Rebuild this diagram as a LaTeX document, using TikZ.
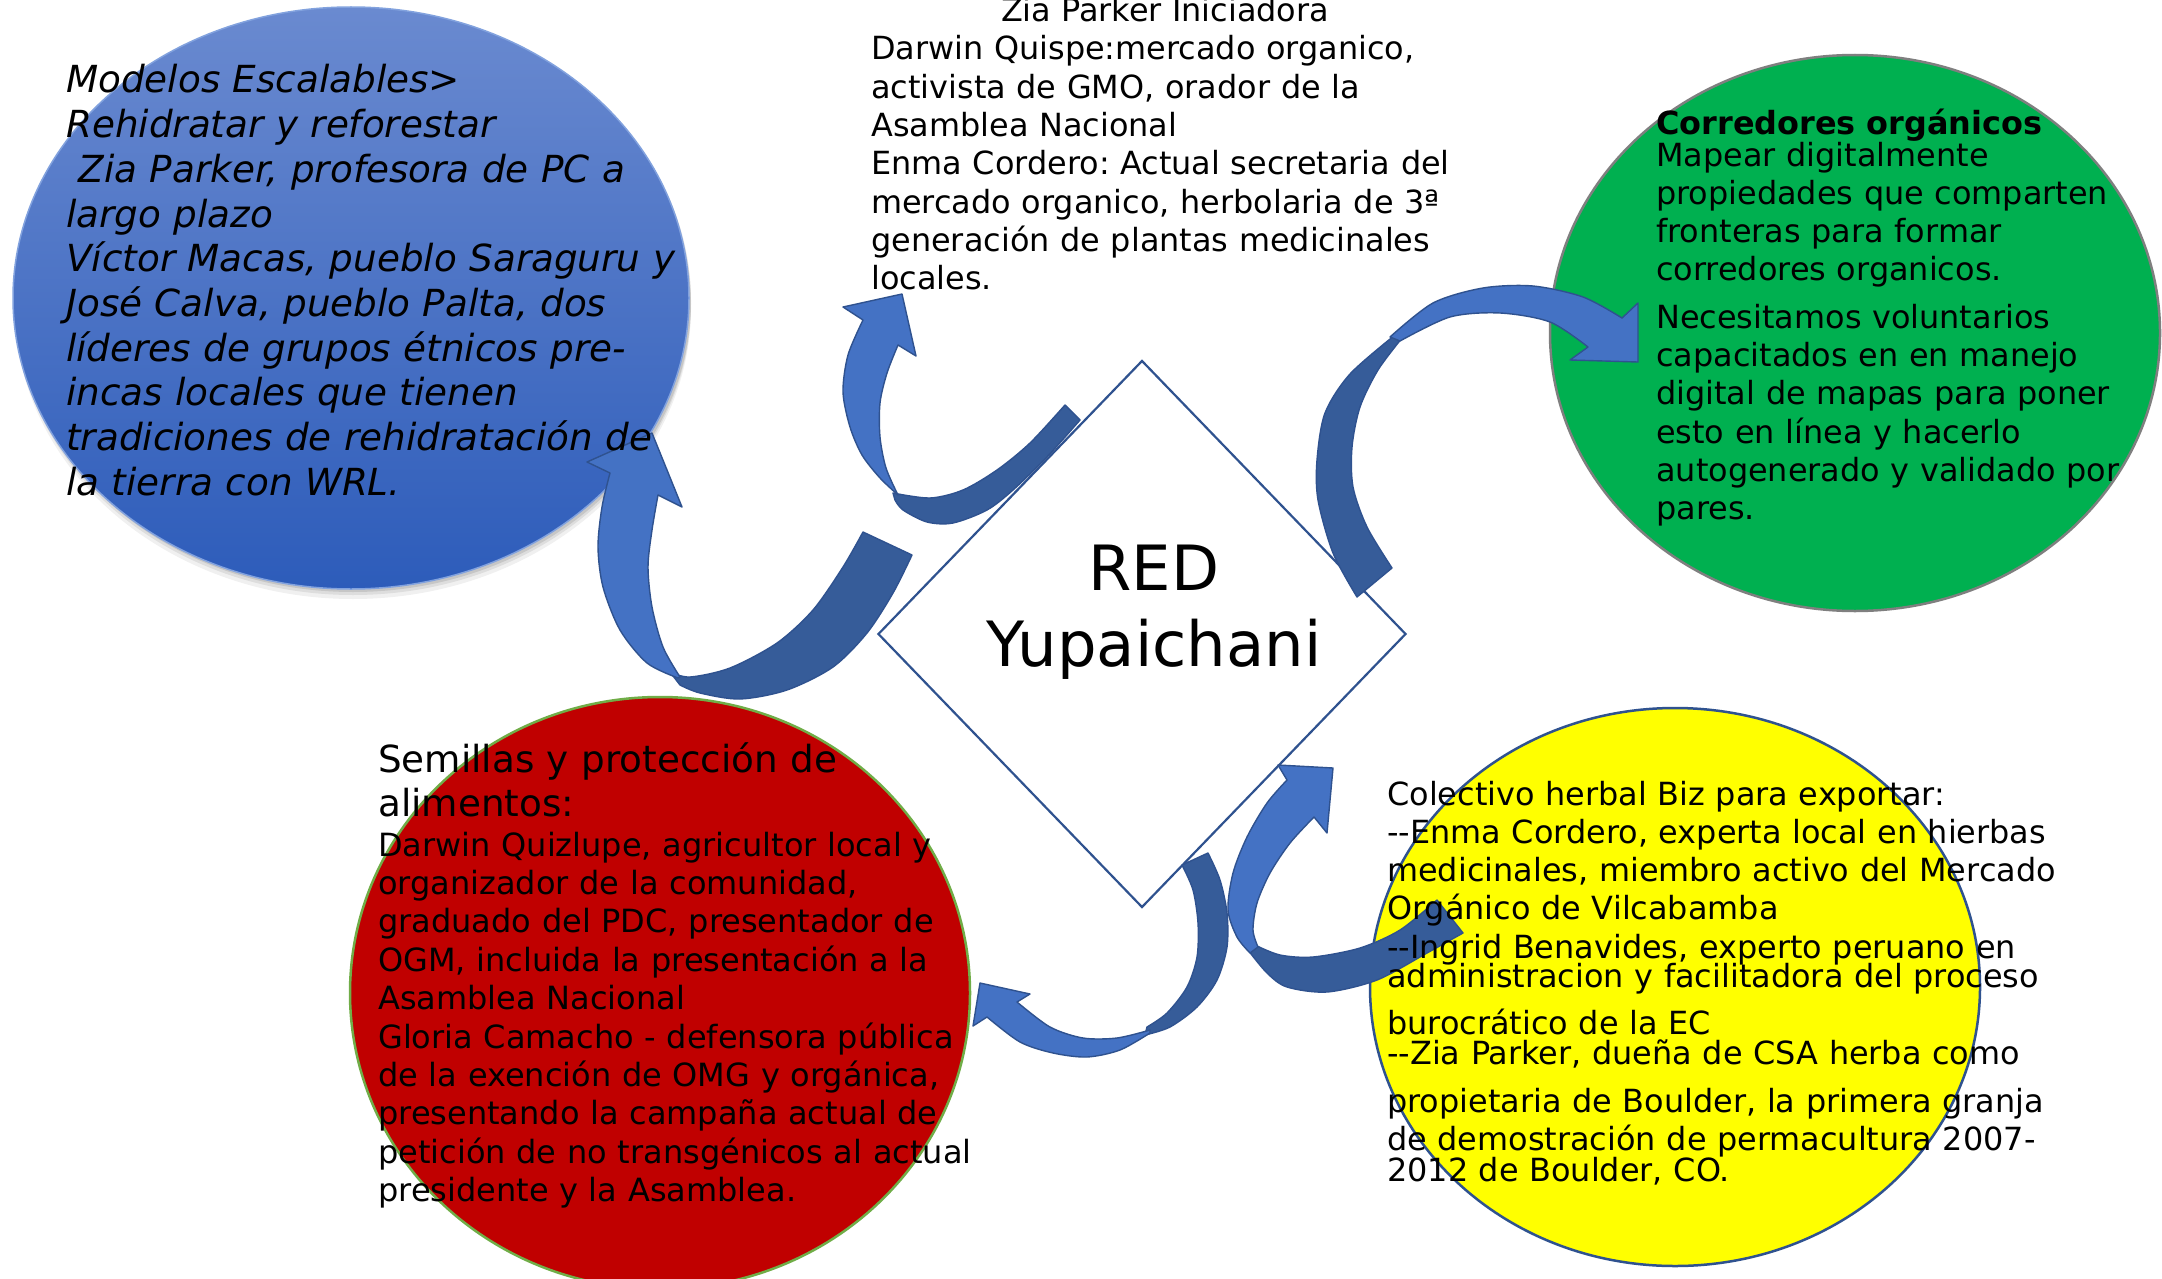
\documentclass[tikz,border=0pt]{standalone}
\usepackage{fontspec}
\setmainfont{DejaVu Sans}[ItalicFont={DejaVu Sans Oblique},BoldFont={DejaVu Sans Bold}]
\usetikzlibrary{shapes.geometric}
\definecolor{arrowlight}{HTML}{4472C4}
\definecolor{arrowdark}{HTML}{365C99}
\definecolor{arrowline}{HTML}{2F528F}
\definecolor{blueTop}{RGB}{106,138,208}
\definecolor{blueMid}{RGB}{72,114,200}
\definecolor{blueBot}{RGB}{45,92,186}
\definecolor{blueEdge}{RGB}{130,162,222}
\definecolor{redfill}{HTML}{C00000}
\definecolor{redline}{HTML}{70AD47}
\definecolor{greenfill}{HTML}{00B050}
\definecolor{grayline}{HTML}{7F7F7F}
\definecolor{yellowfill}{HTML}{FFFF00}
\frenchspacing
\begin{document}
\begin{tikzpicture}[x=1pt,y=-1pt,
  bubble/.style={ellipse, inner sep=0pt},
  lightpart/.style={fill=arrowlight, draw=arrowline, line width=1.4pt, line join=round},
  darkpart/.style={fill=arrowdark, draw=arrowline, line width=1.4pt, line join=round},
  block/.style={anchor=base west, inner sep=0pt, align=left, text width=#1},
  bodyfont/.style={font=\fontsize{31.9}{38.3}\selectfont},
]
\useasboundingbox (0,0) rectangle (2162,1279);
\fill[white] (0,0) rectangle (2162,1279);

% shadow of blue bubble
\foreach \d/\o in {3/0.10,6/0.08,10/0.06}{
  \node[bubble, fill=black, opacity=\o, minimum width=676pt, minimum height=582pt] (shadow\d) at (353,298+\d) {};
}
% bubbles
\node[bubble, top color=blueTop, middle color=blueMid, bottom color=blueBot, draw=blueEdge, line width=1.5pt,
      minimum width=676pt, minimum height=582pt] (blue) at (351,298) {};
\node[bubble, fill=greenfill, draw=grayline, line width=2.5pt,
      minimum width=610pt, minimum height=556pt] (green) at (1855,333) {};
\node[bubble, fill=redfill, draw=redline, line width=2.5pt,
      minimum width=620pt, minimum height=592pt] (red) at (660,993) {};
\node[bubble, fill=yellowfill, draw=arrowline, line width=2.5pt,
      minimum width=610pt, minimum height=558pt] (yellow) at (1675,987) {};
% hub
\node[diamond, draw=arrowline, line width=2.2pt, fill=white, inner sep=0pt,
      minimum width=528pt, minimum height=547pt] (hub) at (1142,634) {};

% arrow 1 : hub -> top text
\filldraw[darkpart] plot[smooth] coordinates {(1065,405) (1030,443) (997,470) (963,490) (930,498) (893,493)}
  -- plot[smooth] coordinates {(895,500) (903,510) (927,522) (953,523) (987,510) (1013,490) (1047,457) (1080,420)} -- cycle;
\filldraw[lightpart] plot[smooth] coordinates {(898,495) (880,478) (862,455) (850,427) (843,392) (848,355) (863,320)}
  -- (843,307) -- (902,294) -- (916,356) -- (898,345)
  -- plot[smooth] coordinates {(898,345) (887,373) (880,403) (880,437) (886,468) (898,495)} -- cycle;

% arrow 2 : hub -> blue bubble
\filldraw[darkpart] plot[smooth] coordinates {(863,532) (843,567) (813,610) (777,643) (730,668) (690,677) (670,672)}
  -- plot[smooth] coordinates {(680,685) (700,693) (740,699) (787,690) (833,667) (867,633) (893,593) (912,555)} -- cycle;
\filldraw[lightpart] plot[smooth] coordinates {(678,678) (647,663) (620,630) (603,587) (598,547) (602,507) (610,473)}
  -- (587,462) -- (652,433) -- (682,507) -- (658,495)
  -- plot[smooth] coordinates {(658,495) (652,530) (648,567) (652,607) (663,647) (680,677)} -- cycle;

% arrow 3 : hub -> green bubble
\filldraw[darkpart] plot[smooth] coordinates {(1357,597) (1333,553) (1318,500) (1317,460) (1325,413) (1350,374) (1395,335)}
  -- plot[smooth] coordinates {(1402,338) (1378,370) (1360,407) (1352,447) (1353,487) (1367,527) (1392,568)} -- cycle;
\filldraw[lightpart] plot[smooth] coordinates {(1390,337) (1433,303) (1483,288) (1533,286) (1583,297) (1622,318)}
  -- (1638,303) -- (1638,362) -- (1570,360) -- (1588,347)
  -- plot[smooth] coordinates {(1588,347) (1550,322) (1500,313) (1450,317) (1400,341)} -- cycle;

% arrow 4 : yellow bubble -> hub
\filldraw[darkpart] plot[smooth] coordinates {(1255,945) (1280,955) (1313,957) (1360,948) (1400,930) (1437,900)}
  -- (1463,933)
  -- plot[smooth] coordinates {(1463,933) (1427,953) (1377,980) (1327,992) (1287,987) (1267,973) (1248,950)} -- cycle;
\filldraw[lightpart] plot[smooth] coordinates {(1250,953) (1237,937) (1228,910) (1233,873) (1247,837) (1267,803) (1287,780)}
  -- (1278,765) -- (1333,768) -- (1327,833) -- (1314,817)
  -- plot[smooth] coordinates {(1314,817) (1290,843) (1270,873) (1257,903) (1253,930) (1258,947)} -- cycle;

% arrow 5 : hub -> red bubble
\filldraw[darkpart] plot[smooth] coordinates {(1208,853) (1220,880) (1227,913) (1227,947) (1217,980) (1197,1007) (1170,1027) (1145,1035)}
  -- plot[smooth] coordinates {(1147,1027) (1167,1013) (1187,987) (1197,957) (1198,923) (1193,890) (1182,865)} -- cycle;
\filldraw[lightpart] plot[smooth] coordinates {(1150,1030) (1117,1038) (1083,1038) (1050,1027) (1017,1002)}
  -- (1030,994) -- (980,983) -- (973,1026) -- (987,1017)
  -- plot[smooth] coordinates {(987,1017) (1020,1042) (1053,1053) (1087,1057) (1120,1050) (1150,1033)} -- cycle;

% texts
\node[block=700pt, font=\fontsize{37.3}{44.7}\selectfont\itshape] (bluetext) at (66,93)
 {Modelos Escalables>\\ Rehidratar y reforestar\\ \ Zia Parker, profesora de PC a\\ largo plazo\\ Víctor Macas, pueblo Saraguru y\\ José Calva, pueblo Palta, dos\\ líderes de grupos étnicos pre-\\ incas locales que tienen\\ tradiciones de rehidratación de\\ la tierra con WRL.};

\node[anchor=base, inner sep=0pt, bodyfont] (toptitle) at (1165,22) {Zia Parker Iniciadora};
\node[block=640pt, bodyfont] (toptext) at (871,60)
 {Darwin Quispe:mercado organico,\\ activista de GMO, orador de la\\ Asamblea Nacional\\ Enma Cordero: Actual secretaria del\\ mercado organico, herbolaria de 3ª\\ generación de plantas medicinales\\ locales.};

\node[anchor=base west, inner sep=0pt, font=\fontsize{31.9}{38.3}\selectfont\bfseries] (greentitle) at (1656,135) {Corredores orgánicos};
\node[block=560pt, bodyfont] (greentext) at (1656,166)
 {Mapear digitalmente\\ propiedades que comparten\\ fronteras para formar\\ corredores organicos.\\[9pt] Necesitamos voluntarios\\ capacitados en en manejo\\ digital de mapas para poner\\ esto en línea y hacerlo\\ autogenerado y validado por\\ pares.};

\node[block=700pt, font=\fontsize{37.3}{44}\selectfont] (redtitle) at (378,772)
 {Semillas y protección de\\ alimentos:};
\node[block=720pt, font=\fontsize{32}{38.4}\selectfont] (redtext) at (378,856)
 {Darwin Quizlupe, agricultor local y\\ organizador de la comunidad,\\ graduado del PDC, presentador de\\ OGM, incluida la presentación a la\\ Asamblea Nacional\\ Gloria Camacho - defensora pública\\ de la exención de OMG y orgánica,\\ presentando la campaña actual de\\ petición de no transgénicos al actual\\ presidente y la Asamblea.};

\node[block=760pt, bodyfont] (yellowtext) at (1387,805)
 {Colectivo herbal Biz para exportar:\\ -{}-Enma Cordero, experta local en hierbas\\ medicinales, miembro activo del Mercado\\ Orgánico de Vilcabamba\\ -{}-Ingrid Benavides, experto peruano en\\[-9pt] administracion y facilitadora del proceso\\[9pt] burocrático de la EC\\[-9pt] -{}-Zia Parker, dueña de CSA herba como\\[10pt] propietaria de Boulder, la primera granja\\ de demostración de permacultura 2007-\\[-8pt] 2012 de Boulder, CO.};

\node[anchor=base, inner sep=0pt, align=center, text width=420pt, font=\fontsize{62.4}{76}\selectfont] (hubtext) at (1154,590)
 {RED\\ Yupaichani};
\end{tikzpicture}
\end{document}
